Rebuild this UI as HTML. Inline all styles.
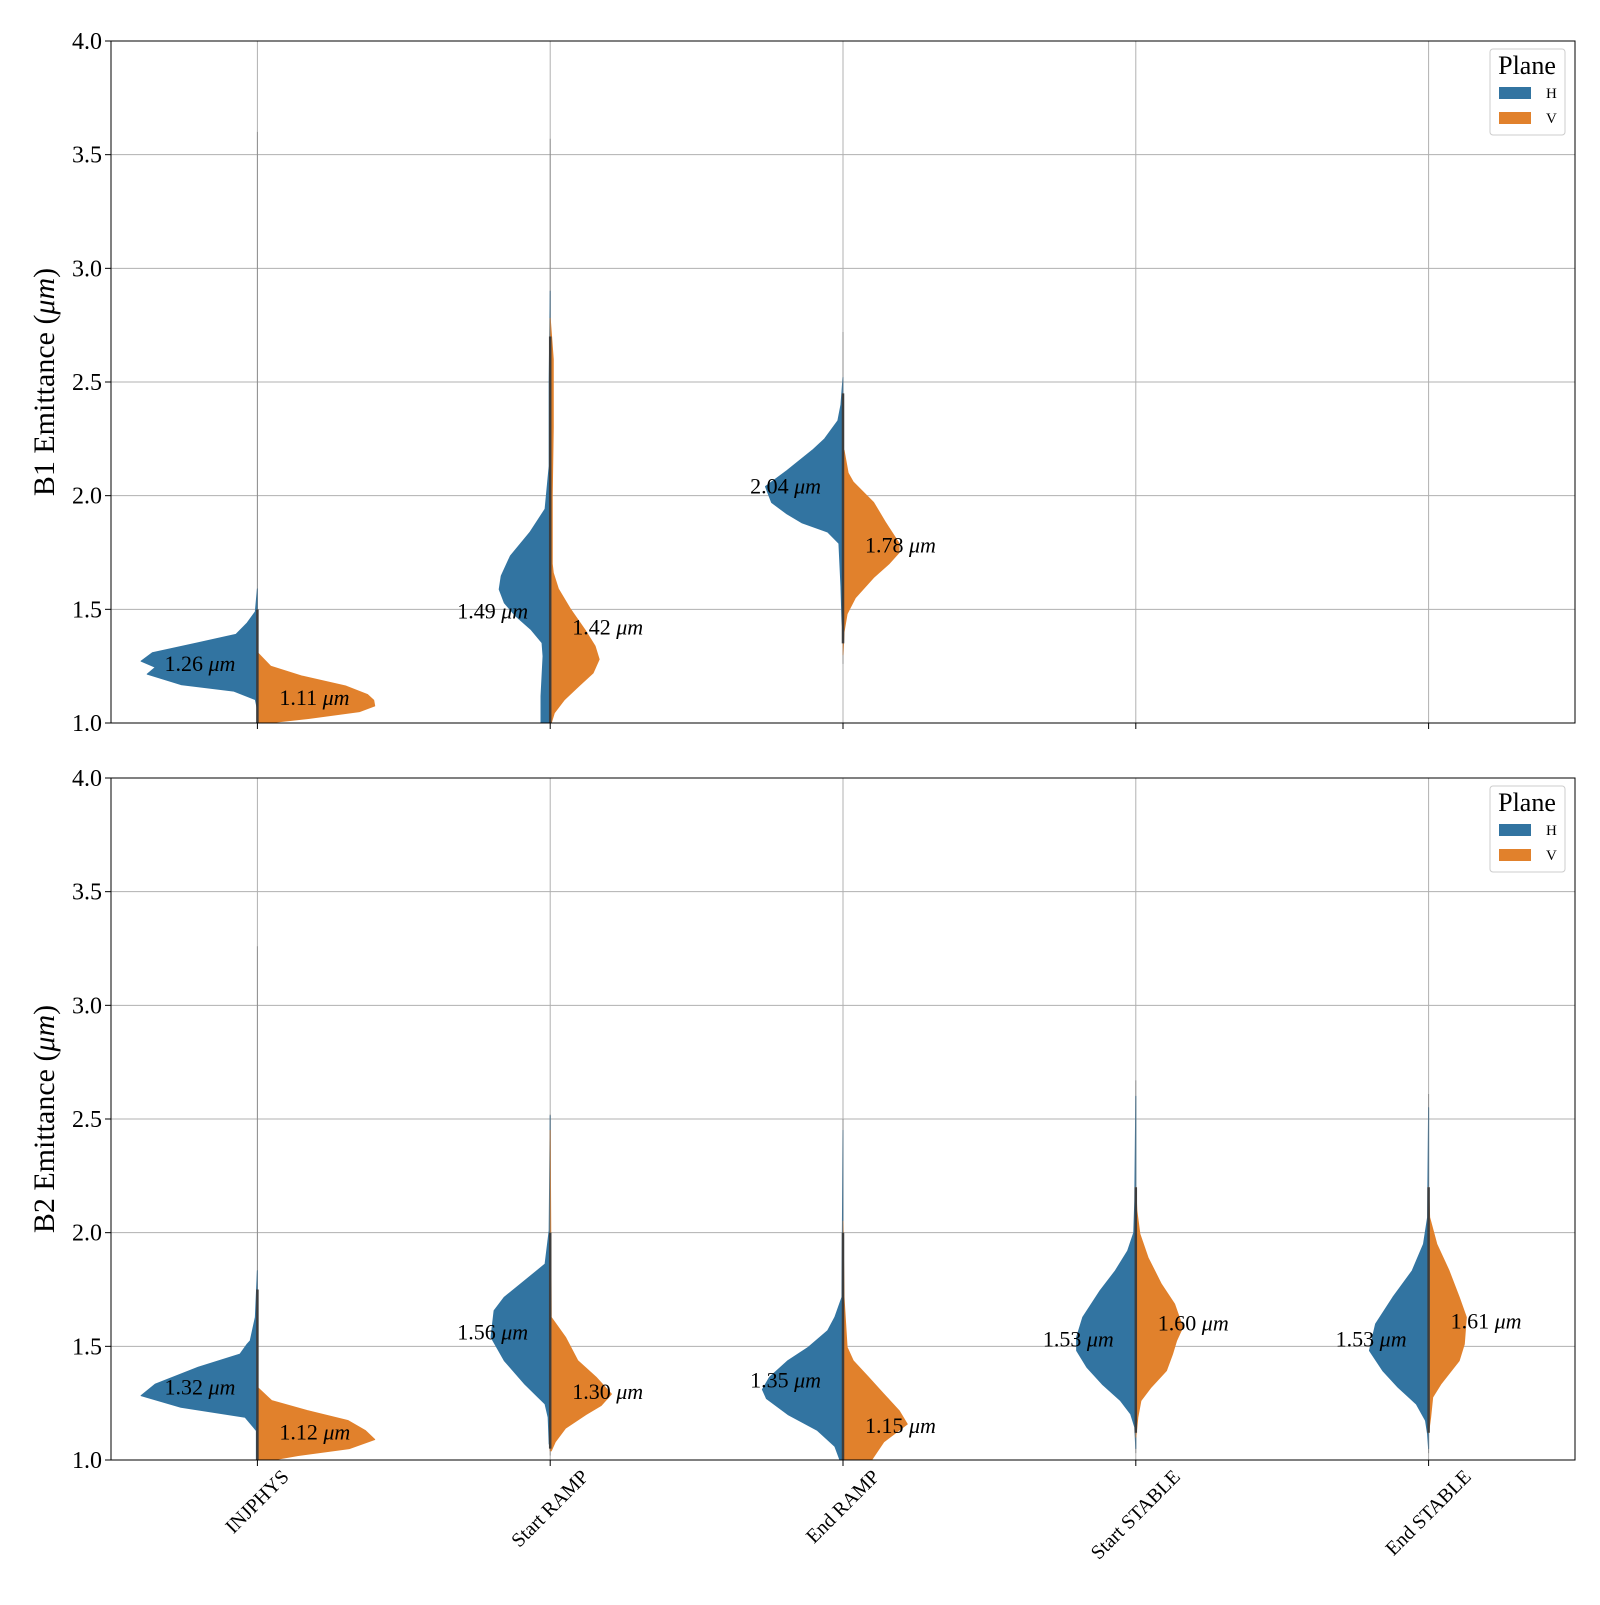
<!DOCTYPE html>
<html><head><meta charset="utf-8"><style>
body{margin:0;background:#fff}
svg text{font-family:"Liberation Serif",serif}
</style></head><body>
<svg id="chart" width="1600" height="1600" xmlns="http://www.w3.org/2000/svg"></svg>
<script>
const categories=["INJPHYS","Start RAMP","End RAMP","Start STABLE","End STABLE"];
const yTicks=[1.0,1.5,2.0,2.5,3.0,3.5,4.0];
const panelTitles=["B1 Emittance (","B2 Emittance ("];
// violin profiles: [value, half-width]
const b1H=[
 [[1.59,0],[1.49,2],[1.44,10],[1.39,21],[1.353,58],[1.309,103],[1.272,114],[1.245,100],[1.215,108],[1.169,75],[1.14,23],[1.103,2],[1.06,0]],
 [[2.9,0],[2.5,1],[2.13,1],[1.941,5],[1.838,20],[1.735,39],[1.647,48],[1.588,50],[1.529,45],[1.471,34],[1.412,19],[1.353,8],[1.294,7],[1.206,8],[1.118,9],[1.0,9]],
 [[2.52,0],[2.4,2],[2.33,5],[2.25,18],[2.2,30],[2.11,55],[2.04,76],[1.97,70],[1.92,55],[1.88,40],[1.84,15],[1.79,4],[1.6,2],[1.45,1],[1.4,0]],
 [],[]];
const b1V=[
 [[1.31,0],[1.25,13],[1.206,44],[1.162,87],[1.125,108],[1.1,114],[1.075,115],[1.05,100],[1.02,50],[1.0,10]],
 [[2.78,0],[2.6,3],[2.3,3],[2.0,2],[1.7,2],[1.66,3],[1.59,8],[1.5,20],[1.41,34],[1.338,44],[1.28,48],[1.22,42],[1.162,28],[1.103,14],[1.044,4],[1.0,1]],
 [[2.2,1],[2.1,5],[2.06,10],[1.97,30],[1.88,42],[1.79,55],[1.75,55],[1.7,45],[1.64,30],[1.55,12],[1.48,4],[1.4,1],[1.3,0]],
 [],[]];
const b2H=[
 [[1.833,0],[1.628,2],[1.525,7],[1.51,10],[1.466,17],[1.408,58],[1.334,100],[1.283,114],[1.232,75],[1.188,12],[1.129,1],[1.0,1]],
 [[2.515,0],[2.009,1],[1.862,5],[1.774,29],[1.716,45],[1.657,55],[1.54,58],[1.437,45],[1.334,25],[1.246,5],[1.188,2],[1.07,1]],
 [[2.45,0],[1.716,1],[1.628,8],[1.569,15],[1.496,34],[1.437,54],[1.364,72],[1.31,79],[1.27,75],[1.2,54],[1.13,25],[1.06,8],[1.0,3]],
 [[2.6,0],[2.14,1],[2.0,2],[1.92,8],[1.833,20],[1.745,35],[1.628,52],[1.54,58],[1.481,58],[1.408,48],[1.334,33],[1.261,15],[1.202,5],[1.144,1],[1.05,0]],
 [[2.55,0],[2.067,1],[1.95,5],[1.833,16],[1.716,35],[1.598,52],[1.481,58],[1.393,45],[1.32,30],[1.246,12],[1.173,3],[1.114,1],[1.05,0]]];
const b2V=[
 [[1.32,0],[1.261,14],[1.217,49],[1.173,89],[1.129,106],[1.09,115],[1.05,90],[1.02,40],[1.0,15]],
 [[2.45,0],[1.628,1],[1.54,15],[1.437,27],[1.364,45],[1.29,60],[1.24,50],[1.2,35],[1.14,15],[1.08,5],[1.04,1]],
 [[2.05,0],[1.716,1],[1.496,4],[1.437,10],[1.364,25],[1.29,40],[1.217,55],[1.158,63],[1.114,50],[1.08,40],[1.0,28]],
 [[2.2,0],[2.097,1],[1.994,4],[1.89,12],[1.774,25],[1.686,38],[1.584,46],[1.525,40],[1.466,36],[1.393,30],[1.32,15],[1.261,5],[1.188,2],[1.1,0]],
 [[2.2,0],[2.067,1],[1.95,8],[1.833,20],[1.716,30],[1.628,37],[1.51,35],[1.437,30],[1.334,12],[1.276,4],[1.188,2],[1.12,0]]];
const b1MedH=[1.26,1.49,2.04,null,null];
const b1MedV=[1.11,1.42,1.78,null,null];
const b2MedH=[1.32,1.56,1.35,1.53,1.53];
const b2MedV=[1.12,1.30,1.15,1.60,1.61];
const b1Whisk=[[1.0,3.6],[1.0,3.57],[1.26,2.72],null,null];
const b2Whisk=[[1.0,3.26],[1.02,2.52],[1.0,2.5],[1.03,2.67],[1.03,2.61]];
const b1Stick=[[1.0,1.5],[1.0,2.7],[1.35,2.45],null,null];
const b2Stick=[[1.0,1.75],[1.05,2.0],[1.0,2.0],[1.12,2.2],[1.12,2.2]];

const svg=document.getElementById('chart');
const NS='http://www.w3.org/2000/svg';
function mk(tag,attrs,parent){const e=document.createElementNS(NS,tag);for(const k in attrs)e.setAttribute(k,attrs[k]);(parent||svg).appendChild(e);return e;}
const X0=111,X1=1575,WS=1.02;
function xScale(i){return X0+(i+0.5)*(X1-X0)/categories.length;}
const panels=[{top:41,bot:723,H:b1H,V:b1V,mH:b1MedH,mV:b1MedV,wk:b1Whisk,st:b1Stick},{top:778,bot:1460,H:b2H,V:b2V,mH:b2MedH,mV:b2MedV,wk:b2Whisk,st:b2Stick}];
const BLUE='#3274a1',ORANGE='#e1812c';
panels.forEach((p,pi)=>{
 const yS=v=>p.bot-(v-1)/3*(p.bot-p.top);
 const g=mk('g',{});
 
 
 yTicks.forEach(t=>{
  const l=mk('line',{x1:X0,x2:X1,y1:yS(t),y2:yS(t),stroke:'#b0b0b0','stroke-width':1},g);
  
  
  const tk=mk('line',{x1:X0-6,x2:X0,y1:yS(t),y2:yS(t),stroke:'#000','stroke-width':1},g);
  
  
  const tx=mk('text',{x:X0-9,y:yS(t)+8,'text-anchor':'end','font-size':24},g);
  tx.textContent=t.toFixed(1);
  
  
 });
 categories.forEach((c,i)=>{
  const x=xScale(i);
  const l=mk('line',{x1:x,x2:x,y1:p.top,y2:p.bot,stroke:'#b0b0b0','stroke-width':1},g);
  
  
  const tk=mk('line',{x1:x,x2:x,y1:p.bot,y2:p.bot+6,stroke:'#000','stroke-width':1},g);
  
  
 });
 const clip=mk('clipPath',{id:'clip'+pi},g);
 mk('rect',{x:X0,y:p.top,width:X1-X0,height:p.bot-p.top},clip);
 const vg=mk('g',{'clip-path':'url(#clip'+pi+')'},g);
 categories.forEach((c,i)=>{
  const x=xScale(i);
  [[p.H[i],-1,BLUE,'h'],[p.V[i],1,ORANGE,'v']].forEach(([prof,dir,col,nm])=>{
   if(!prof||!prof.length)return;
   let d='M'+x+','+yS(prof[0][0]);
   prof.forEach(pt=>{d+=' L'+(x+dir*pt[1]*WS)+','+yS(pt[0]);});
   d+=' L'+x+','+yS(prof[prof.length-1][0])+' Z';
   const path=mk('path',{d:d,fill:col,stroke:col,'stroke-width':1,'stroke-linejoin':'round'},vg);
   
   
  });
  const w=p.wk[i];
  if(w){
   const wl=mk('line',{x1:x,x2:x,y1:yS(w[0]),y2:yS(w[1]),stroke:'#777','stroke-width':1,opacity:0.6},vg);
   
   
  }
  const s=p.st[i];
  if(s){
   const sl=mk('line',{x1:x,x2:x,y1:yS(s[0]),y2:yS(s[1]),stroke:'#3d3d3d','stroke-width':2.5},vg);
   
   
  }
  [[p.mH[i],-1,'end'],[p.mV[i],1,'start']].forEach(([m,dir,anc])=>{
   if(m==null)return;
   const t=mk('text',{x:x+dir*22,y:yS(m)+7,'text-anchor':anc,'font-size':22},g);
   t.innerHTML=m.toFixed(2)+' <tspan font-style="italic">μm</tspan>';
   
   
  });
 });
 const fr=mk('rect',{x:X0,y:p.top,width:X1-X0,height:p.bot-p.top,fill:'none',stroke:'#000','stroke-width':1},g);
 
 
 const yl=mk('text',{x:0,y:0,'text-anchor':'middle','font-size':30,transform:'translate(54,'+((p.top+p.bot)/2)+') rotate(-90)'},g);
 yl.innerHTML=panelTitles[pi]+'<tspan font-style="italic">μm</tspan>)';
 
 
 const lg=mk('g',{},g);
 
 
 mk('rect',{x:1490,y:p.top+8,width:75,height:86,rx:3,fill:'#fff','fill-opacity':0.8,stroke:'#ccc'},lg);
 const lt=mk('text',{x:1527,y:p.top+33,'text-anchor':'middle','font-size':26},lg);
 lt.textContent='Plane';
 
 
 [['H',BLUE,52],['V',ORANGE,77]].forEach(([n,col,dy])=>{
  const r=mk('rect',{x:1499,y:p.top+dy-6,width:32,height:12,fill:col},lg);
  
  
  const t=mk('text',{x:1546,y:p.top+dy+5,'font-size':15},lg);
  t.textContent=n;
  
  
 });
});
categories.forEach((c,i)=>{
 const x=xScale(i);
 const fs=20;
 const t=mk('text',{x:0,y:0,'text-anchor':'middle','font-size':fs});
 t.textContent=c;
 
 
 const L=t.getComputedTextLength();
 const h=(L+fs*0.8)/Math.SQRT2;
 t.setAttribute('dominant-baseline','central');
 t.setAttribute('transform','translate('+x+','+(1468+h/2)+') rotate(-45)');
});
</script>
</body></html>
